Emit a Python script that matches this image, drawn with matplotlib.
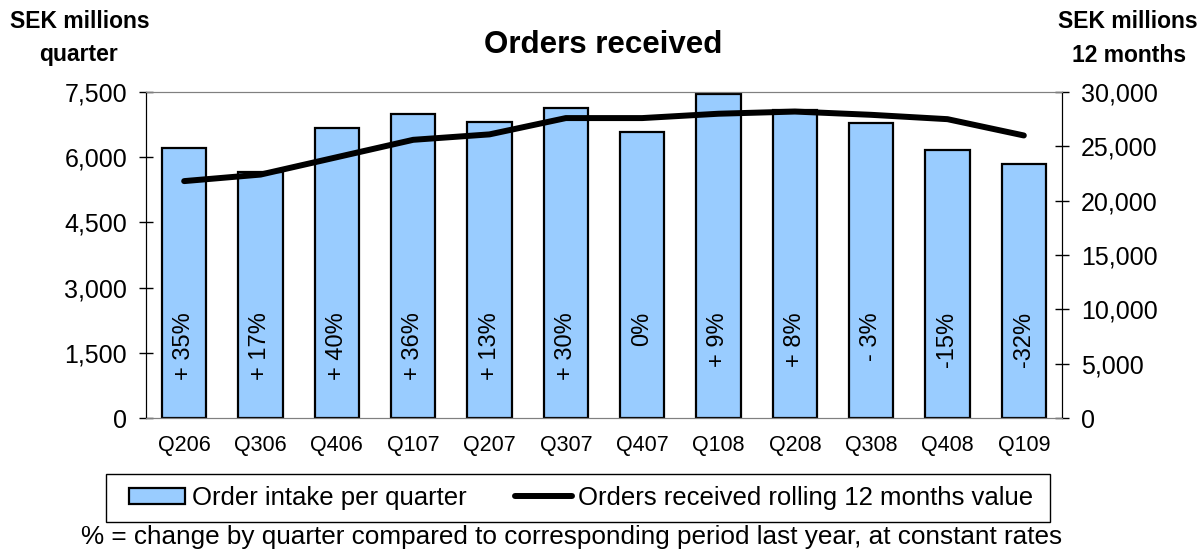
import numpy as np
import matplotlib.pyplot as plt
from matplotlib.lines import Line2D
from matplotlib.patches import Rectangle

plt.rcParams['font.family'] = ['Liberation Sans', 'DejaVu Sans']

quarters = ['Q206', 'Q306', 'Q406', 'Q107', 'Q207', 'Q307',
            'Q407', 'Q108', 'Q208', 'Q308', 'Q408', 'Q109']
order_intake = [6210, 5650, 6670, 6990, 6810, 7130,
                6580, 7450, 7080, 6780, 6160, 5840]
rolling_12m = [21800, 22400, 24000, 25600, 26100, 27600,
               27600, 28000, 28200, 27900, 27500, 26000]
pct_change = ['+ 35%', '+ 17%', '+ 40%', '+ 36%', '+ 13%', '+ 30%',
              '0%', '+ 9%', '+ 8%', '- 3%', '-15%', '-32%']

W, H = 1201, 549
fig = plt.figure(figsize=(W / 100, H / 100), dpi=100)
ax = fig.add_axes([146 / W, 1 - 418 / H, 916 / W, 326 / H])
ax1 = ax.twinx()

x = np.arange(len(quarters))
bar_color = '#99ccff'
ax.bar(x, order_intake, width=0.58, color=bar_color, edgecolor='black', linewidth=1.6, zorder=2)
ax.set_xlim(-0.5, len(quarters) - 0.5)
ax.set_ylim(0, 7500)
ax.set_yticks([0, 1500, 3000, 4500, 6000, 7500])
ax.set_yticklabels(['0', '1,500', '3,000', '4,500', '6,000', '7,500'])
ax.set_xticks(x)
ax.set_xticklabels(quarters)

# % labels inside bars
for i, t in enumerate(pct_change):
    ax.text(x[i], 2440, t, rotation=90, ha='center', va='top', fontsize=17, zorder=3)

ax1.plot(x, rolling_12m, color='black', linewidth=4.3, solid_capstyle='round',
         solid_joinstyle='round', zorder=4)
ax1.set_ylim(0, 30000)
ax1.set_yticks([0, 5000, 10000, 15000, 20000, 25000, 30000])
ax1.set_yticklabels(['0', '5,000', '10,000', '15,000', '20,000', '25,000', '30,000'])

ax.tick_params(axis='y', labelsize=18, direction='inout', length=10, width=1, pad=8.5)
ax1.tick_params(axis='y', labelsize=18, direction='inout', length=10, width=1, pad=8.5)
ax.tick_params(axis='x', labelsize=15.5, length=0, pad=12)
for a in (ax, ax1):
    a.spines['top'].set_color('#808080')
    a.spines['bottom'].set_color('#808080')
    a.spines['left'].set_color('black')
    a.spines['right'].set_color('black')

fig.text(603 / W, 1 - 45 / H, 'Orders received', ha='center', va='center', fontsize=22.5, fontweight='bold')
fig.text(80 / W, 1 - 22 / H, 'SEK millions', ha='center', va='center', fontsize=16.5, fontweight='bold')
fig.text(79 / W, 1 - 55 / H, 'quarter', ha='center', va='center', fontsize=16.5, fontweight='bold')
fig.text(1128 / W, 1 - 22 / H, 'SEK millions', ha='center', va='center', fontsize=16.5, fontweight='bold')
fig.text(1129 / W, 1 - 55 / H, '12 months', ha='center', va='center', fontsize=16.5, fontweight='bold')

# legend: entries without frame, box drawn separately
handles = [Rectangle((0, 0), 1, 1, facecolor=bar_color, edgecolor='black', linewidth=1.6),
           Line2D([0], [0], color='black', linewidth=4.3, solid_capstyle='round')]
fig.legend(handles, ['Order intake per quarter', 'Orders received rolling 12 months value'],
           loc='center', bbox_to_anchor=(581 / W, 1 - 498 / H), ncol=2, fontsize=18.5,
           frameon=False, handlelength=2.2, handleheight=0.6, handletextpad=0.25,
           columnspacing=1.9, borderpad=0, borderaxespad=0)
fig.add_artist(Rectangle((106 / W, 1 - 522 / H), 944 / W, 48 / H, transform=fig.transFigure,
                         fill=False, edgecolor='black', linewidth=1))

fig.text(572 / W, 1 - 537 / H, '% = change by quarter compared to corresponding period last year, at constant rates',
         ha='center', va='center', fontsize=18.8)

fig.savefig('out.png', dpi=100)
